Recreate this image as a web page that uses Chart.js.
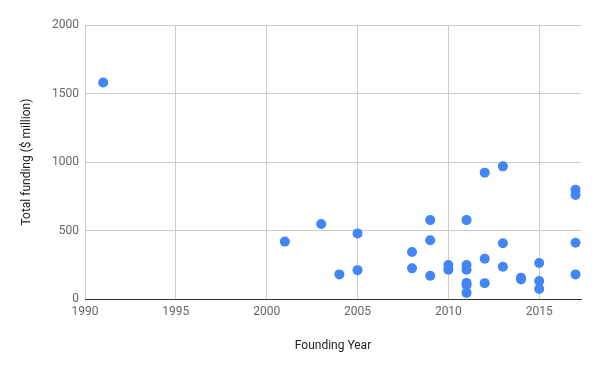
<!DOCTYPE html>
<html>
<head>
<meta charset="utf-8">
<script src="https://cdn.jsdelivr.net/npm/chart.js@4"></script>
<style>
	html, body { margin: 0; padding: 0; background: #fff; }
	#wrap { width: 600px; height: 371px; }
</style>
</head>
<body>
<div id="wrap"><canvas id="chart" width="600" height="371"></canvas></div>
<script>
// Founding year and total funding ($ million)
const years = [1991, 2001, 2003, 2004, 2005, 2005, 2008, 2008, 2009, 2009, 2009,
	2010, 2010, 2011, 2011, 2011, 2011, 2011, 2011, 2012, 2012, 2012,
	2013, 2013, 2013, 2014, 2014, 2015, 2015, 2015, 2017, 2017, 2017, 2017];
const funding = [1580, 420, 548, 181, 480, 212, 344, 225, 577, 430, 171,
	249, 215, 577, 249, 215, 119, 103, 46, 923, 295, 117,
	969, 408, 237, 156, 144, 264, 132, 75, 799, 760, 412, 181];

const xTicks = [1990, 1995, 2000, 2005, 2010, 2015];
const yTicks = [0, 500, 1000, 1500, 2000];

const points = years.map((y, i) => ({ x: y, y: funding[i] }));

const chart = new Chart(document.getElementById("chart").getContext("2d"), {
	type: "scatter",
	data: {
		datasets: [{
			data: points,
			backgroundColor: "#4285f4",
			borderColor: "#4285f4",
			pointRadius: 5,
			pointHoverRadius: 5,
			borderWidth: 0
		}]
	},
	options: {
		responsive: false,
		animation: false,
		layout: {
			padding: { top: 25, right: 19, bottom: 9, left: 0 }
		},
		plugins: {
			legend: { display: false },
			tooltip: { enabled: false }
		},
		scales: {
			x: {
				type: "linear",
				min: 1990,
				max: 2017.3,
				afterBuildTicks: (scale) => {
					scale.ticks = xTicks.map(v => ({ value: v }));
				},
				grid: { color: "#cccccc", drawTicks: false },
				border: { color: "#333333" },
				ticks: {
					padding: 6,
					color: "#666666",
					font: { family: "Roboto", size: 12 },
					callback: (v) => String(v)
				},
				title: {
					display: true,
					text: "Founding Year",
					color: "#222222",
					font: { family: "Roboto", size: 12 },
					padding: { top: 13, bottom: 9 }
				}
			},
			y: {
				min: 0,
				max: 2000,
				afterBuildTicks: (scale) => {
					scale.ticks = yTicks.map(v => ({ value: v }));
				},
				afterFit: (scale) => {
					scale.width = 85;
				},
				grid: { color: "#cccccc", drawTicks: false },
				border: { display: false },
				ticks: {
					padding: 6,
					color: "#666666",
					font: { family: "Roboto", size: 12 },
					callback: (v) => String(v)
				},
				title: {
					display: true,
					text: "Total funding ($ million)",
					color: "#222222",
					font: { family: "Roboto", size: 12 },
					padding: { top: 20, bottom: 0 }
				}
			}
		}
	}
});
</script>
</body>
</html>
